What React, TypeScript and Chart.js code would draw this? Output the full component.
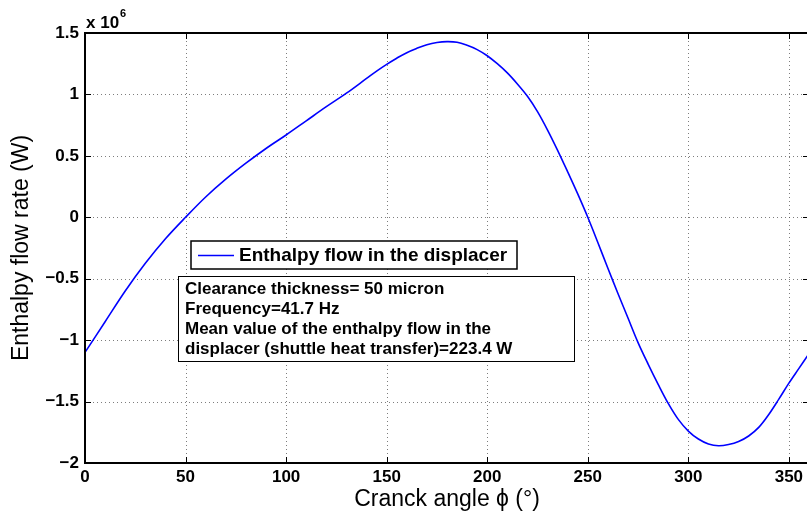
import React, { useEffect, useRef } from "react";
import { Chart, registerables } from "chart.js";

Chart.register(...registerables);

// ---- data ----
const crankAngles = [
  0, 10, 20, 30, 40, 50, 60, 70, 80, 90, 100, 110, 120, 130, 140,
  145, 150, 155, 160, 165, 170, 175, 180, 185, 190, 195, 200, 205, 210, 215, 220, 225, 230,
  235, 240, 245, 250, 255, 260, 265, 270, 275, 280, 285, 290, 295, 300, 305, 310, 315, 320,
  325, 330, 335, 340, 345, 350, 355, 360,
];
const enthalpyFlow = [
  -1.10e6, -0.85e6, -0.60e6, -0.375e6, -0.175e6, 0.0, 0.165e6, 0.31e6, 0.44e6, 0.56e6, 0.67e6,
  0.785e6, 0.9e6, 1.01e6, 1.13e6,
  1.19e6, 1.245e6, 1.295e6, 1.34e6, 1.375e6, 1.405e6, 1.423e6, 1.43e6, 1.425e6, 1.40e6,
  1.365e6, 1.315e6, 1.25e6, 1.175e6, 1.085e6, 0.985e6, 0.86e6, 0.71e6,
  0.545e6, 0.37e6, 0.19e6, 0.0, -0.205e6, -0.415e6, -0.62e6, -0.82e6, -1.02e6, -1.195e6,
  -1.36e6, -1.515e6, -1.645e6, -1.74e6, -1.805e6, -1.845e6, -1.86e6, -1.85e6,
  -1.825e6, -1.78e6, -1.71e6, -1.605e6, -1.48e6, -1.35e6, -1.23e6, -1.11e6,
];
const xTickValues = [0, 50, 100, 150, 200, 250, 300, 350];
const xTickLabels = ["0", "50", "100", "150", "200", "250", "300", "350"];
const yTickValues = [-2e6, -1.5e6, -1e6, -0.5e6, 0, 0.5e6, 1e6, 1.5e6];
const yTickLabels = ["\u22122", "\u22121.5", "\u22121", "\u22120.5", "0", "0.5", "1", "1.5"];
const seriesLabel = "Enthalpy flow in the displacer";
const infoLines = [
  "Clearance thickness= 50 micron",
  "Frequency=41.7 Hz",
  "Mean value of the enthalpy flow in the",
  "displacer (shuttle heat transfer)=223.4 W",
];
const xTitle = "Cranck angle \u03D5 (\u00B0)";
const yTitle = "Enthalpy flow rate (W)";
const exponentBase = "x 10";
const exponentPower = "6";

const FONT = "'Liberation Sans', Arial, Helvetica, sans-serif";

const decorPlugin = {
  id: "matlabDecor",
  beforeDatasetsDraw(chart: any) {
    const { ctx, chartArea: a, scales } = chart;
    const xs = scales.x;
    const ys = scales.y;
    ctx.save();
    ctx.strokeStyle = "rgba(70,70,70,0.7)";
    ctx.lineWidth = 1;
    ctx.setLineDash([1, 3]);
    xTickValues.forEach((v) => {
      if (v <= xs.min || v >= xs.max) return;
      const px = Math.round(xs.getPixelForValue(v)) + 0.5;
      ctx.beginPath();
      ctx.moveTo(px, a.top);
      ctx.lineTo(px, a.bottom);
      ctx.stroke();
    });
    yTickValues.forEach((v) => {
      if (v <= ys.min || v >= ys.max) return;
      const py = Math.round(ys.getPixelForValue(v)) + 0.5;
      ctx.beginPath();
      ctx.moveTo(a.left, py);
      ctx.lineTo(a.right, py);
      ctx.stroke();
    });
    ctx.restore();
  },
  afterDatasetsDraw(chart: any) {
    const { ctx, chartArea: a, scales } = chart;
    const xs = scales.x;
    const ys = scales.y;
    ctx.save();
    ctx.strokeStyle = "#000";
    ctx.lineWidth = 1;
    const tl = 6;
    xTickValues.forEach((v) => {
      const px = Math.round(xs.getPixelForValue(v)) + 0.5;
      ctx.beginPath();
      ctx.moveTo(px, a.bottom);
      ctx.lineTo(px, a.bottom - tl);
      ctx.moveTo(px, a.top);
      ctx.lineTo(px, a.top + tl);
      ctx.stroke();
    });
    yTickValues.forEach((v) => {
      const py = Math.round(ys.getPixelForValue(v)) + 0.5;
      ctx.beginPath();
      ctx.moveTo(a.left, py);
      ctx.lineTo(a.left + tl, py);
      ctx.moveTo(a.right, py);
      ctx.lineTo(a.right - tl, py);
      ctx.stroke();
    });
    ctx.lineWidth = 2;
    ctx.strokeRect(a.left, a.top, a.right - a.left, a.bottom - a.top);
    ctx.restore();
  },
  afterDraw(chart: any) {
    const { ctx, chartArea: a } = chart;
    ctx.save();
    // exponent label
    ctx.fillStyle = "#000";
    ctx.textBaseline = "alphabetic";
    ctx.textAlign = "left";
    ctx.font = `bold 17px ${FONT}`;
    ctx.fillText(exponentBase, a.left + 1, 28);
    const w = ctx.measureText(exponentBase).width;
    ctx.font = `bold 11px ${FONT}`;
    ctx.fillText(exponentPower, a.left + 2 + w, 17);

    // legend
    const lx = 191, ly = 241, lw = 326, lh = 28;
    ctx.fillStyle = "#fff";
    ctx.fillRect(lx, ly, lw, lh);
    ctx.strokeStyle = "#000";
    ctx.lineWidth = 1.5;
    ctx.strokeRect(lx, ly, lw, lh);
    ctx.strokeStyle = "#0000ff";
    ctx.lineWidth = 1.6;
    ctx.beginPath();
    ctx.moveTo(198, 255.5);
    ctx.lineTo(234, 255.5);
    ctx.stroke();
    ctx.fillStyle = "#000";
    ctx.font = `bold 19px ${FONT}`;
    ctx.textBaseline = "middle";
    ctx.fillText(chart.data.datasets[0].label, 239, 256);

    // info box
    const bx = 178.5, by = 276.5, bw = 396, bh = 85;
    ctx.fillStyle = "#fff";
    ctx.fillRect(bx, by, bw, bh);
    ctx.strokeStyle = "#000";
    ctx.lineWidth = 1;
    ctx.strokeRect(bx, by, bw, bh);
    ctx.fillStyle = "#000";
    ctx.font = `bold 17px ${FONT}`;
    infoLines.forEach((t, i) => {
      ctx.fillText(t, 185, 289.5 + i * 20);
    });
    ctx.restore();
  },
};

export default function App() {
  const canvasRef = useRef<HTMLCanvasElement | null>(null);

  useEffect(() => {
    const canvas = canvasRef.current;
    if (!canvas) return;
    const points = crankAngles.map((x, i) => ({ x, y: enthalpyFlow[i] }));
    const chart = new Chart(canvas, {
      type: "line",
      data: {
        datasets: [
          {
            label: seriesLabel,
            data: points,
            borderColor: "#0000ff",
            borderWidth: 1.6,
            pointRadius: 0,
            fill: false,
            tension: 0.35,
          },
        ],
      },
      options: {
        animation: false,
        responsive: false,
        devicePixelRatio: 1,
        layout: { autoPadding: false, padding: { top: 33, right: 31, left: 0, bottom: 0 } },
        plugins: {
          legend: { display: false },
          tooltip: { enabled: false },
          title: { display: false },
        },
        scales: {
          x: {
            type: "linear",
            min: 0,
            max: 360,
            afterFit: (s: any) => {
              s.height = 57;
            },
            afterBuildTicks: (s: any) => {
              s.ticks = xTickValues.map((v) => ({ value: v }));
            },
            ticks: {
              autoSkip: false,
              maxRotation: 0,
              padding: 4,
              color: "#000",
              font: { family: FONT, size: 17, weight: "bold" },
              callback: (v: any) => {
                const i = xTickValues.indexOf(Number(v));
                return i >= 0 ? xTickLabels[i] : "";
              },
            },
            grid: { display: false, drawTicks: false },
            border: { display: false },
            title: {
              display: true,
              text: xTitle,
              color: "#000",
              font: { family: FONT, size: 23, weight: "normal" },
              padding: { top: 0, bottom: 7 },
            },
          },
          y: {
            type: "linear",
            min: -2e6,
            max: 1.5e6,
            afterFit: (s: any) => {
              s.width = 85;
            },
            afterBuildTicks: (s: any) => {
              s.ticks = yTickValues.map((v) => ({ value: v }));
            },
            ticks: {
              autoSkip: false,
              padding: 6,
              color: "#000",
              font: { family: FONT, size: 17, weight: "bold" },
              callback: (v: any) => {
                const i = yTickValues.indexOf(Number(v));
                return i >= 0 ? yTickLabels[i] : "";
              },
            },
            grid: { display: false, drawTicks: false },
            border: { display: false },
            title: {
              display: true,
              text: yTitle,
              color: "#000",
              font: { family: FONT, size: 23, weight: "normal" },
              padding: { top: 8, bottom: 0 },
            },
          },
        },
      },
      plugins: [decorPlugin],
    } as any);
    return () => chart.destroy();
  }, []);

  return (
    <div
      style={{
        position: "absolute",
        left: 0,
        top: 0,
        width: 807,
        height: 520,
        overflow: "hidden",
        background: "#fff",
      }}
    >
      <canvas ref={canvasRef} width={840} height={520} style={{ width: 840, height: 520, display: "block" }} />
    </div>
  );
}
